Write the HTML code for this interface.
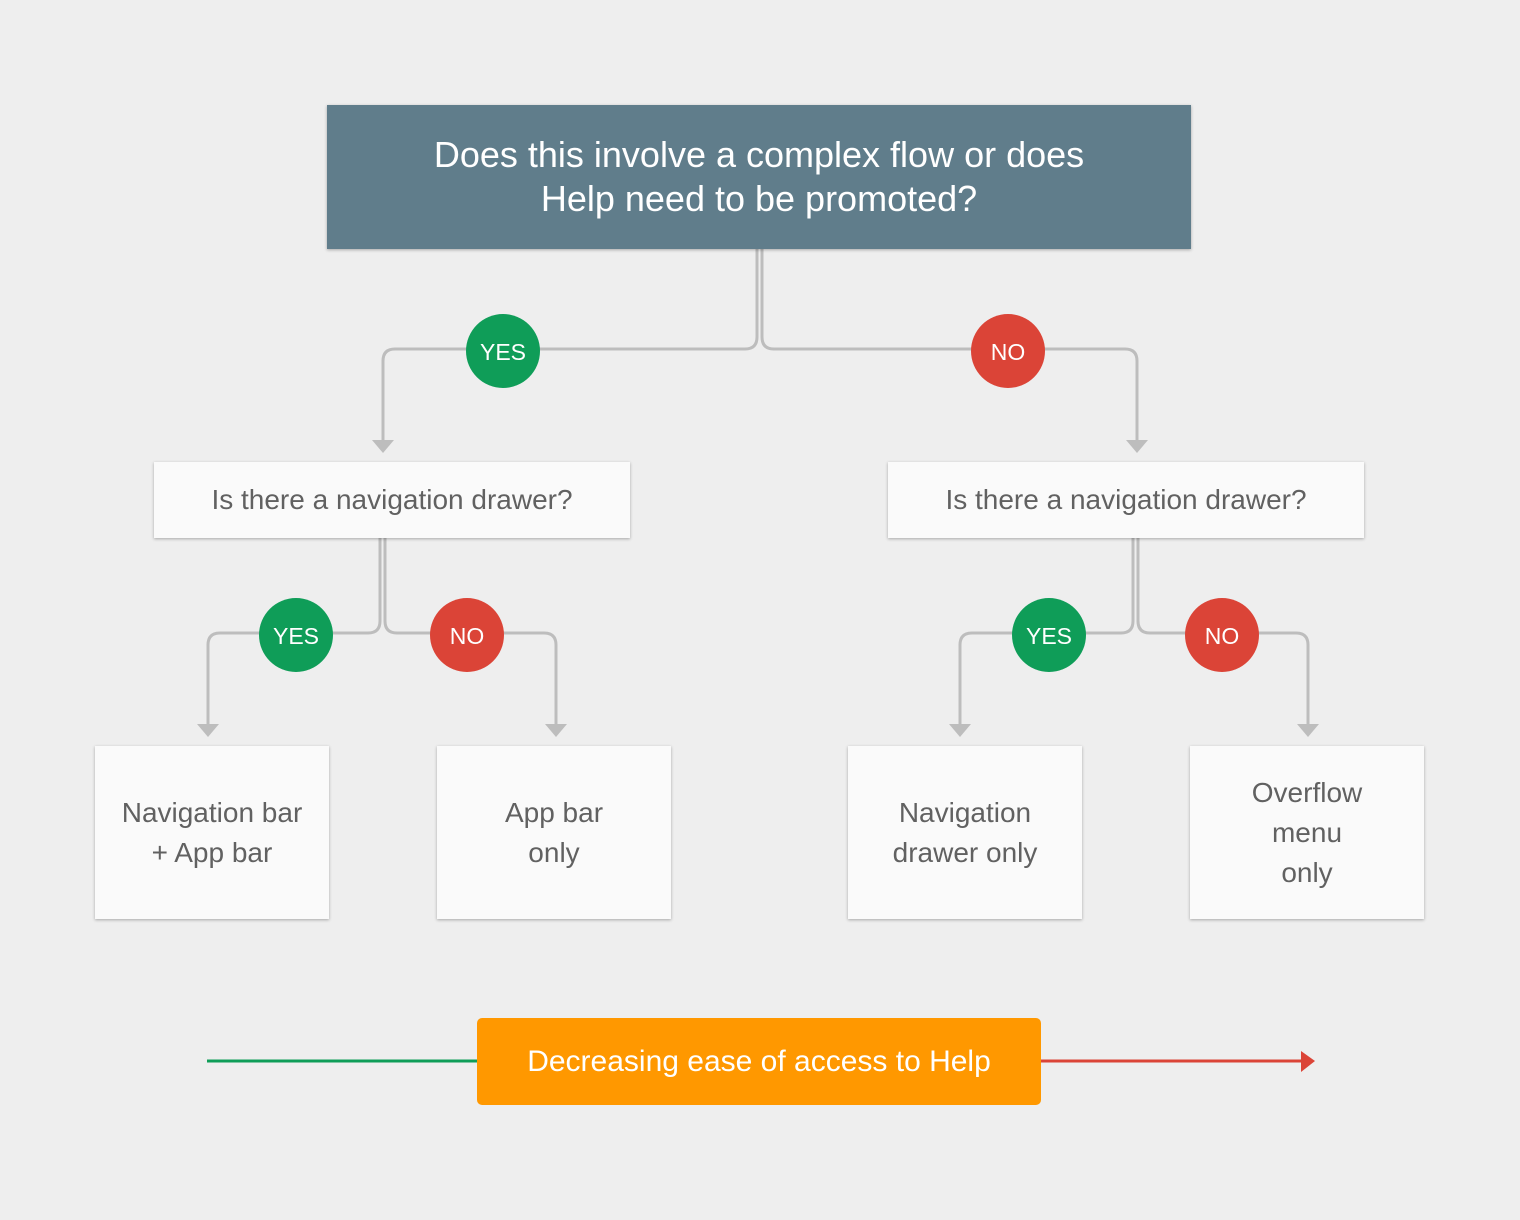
<!DOCTYPE html>
<html><head><meta charset="utf-8"><style>
html,body{margin:0;padding:0;background:#eeeeee;}
body{width:1520px;height:1220px;position:relative;overflow:hidden;font-family:"Liberation Sans",Roboto,sans-serif;}
.box{position:absolute;background:#fafafa;box-shadow:0 1px 3px rgba(0,0,0,.3);display:flex;align-items:center;justify-content:center;text-align:center;color:#616161;}
svg{position:absolute;left:0;top:0;}
</style></head><body>
<svg width="1520" height="1220">
<g fill="none" stroke="#bdbdbd" stroke-width="3">
<path d="M757 249 V337 Q757 349 745 349 H395 Q383 349 383 361 V442"/>
<path d="M762 249 V337 Q762 349 774 349 H1125 Q1137 349 1137 361 V442"/>
<path d="M380 538 V621 Q380 633 368 633 H220 Q208 633 208 645 V726"/>
<path d="M385 538 V621 Q385 633 397 633 H544 Q556 633 556 645 V726"/>
<path d="M1133 538 V621 Q1133 633 1121 633 H972 Q960 633 960 645 V726"/>
<path d="M1138 538 V621 Q1138 633 1150 633 H1296 Q1308 633 1308 645 V726"/>
</g>
<g fill="#bdbdbd">
<polygon points="372,440 394,440 383,453"/>
<polygon points="1126,440 1148,440 1137,453"/>
<polygon points="197,724 219,724 208,737"/>
<polygon points="545,724 567,724 556,737"/>
<polygon points="949,724 971,724 960,737"/>
<polygon points="1297,724 1319,724 1308,737"/>
</g>
<line x1="207" y1="1061" x2="480" y2="1061" stroke="#0f9d58" stroke-width="3"/>
<line x1="1040" y1="1061" x2="1303" y2="1061" stroke="#db4437" stroke-width="3"/>
<polygon points="1301,1051 1315,1061 1301,1072" fill="#db4437"/>
<g font-family="Liberation Sans, sans-serif" font-size="23" fill="#fff" text-anchor="middle">
<circle cx="503" cy="351" r="37" fill="#0f9d58"/><text x="503" y="360">YES</text>
<circle cx="1008" cy="351" r="37" fill="#db4437"/><text x="1008" y="360">NO</text>
<circle cx="296" cy="635" r="37" fill="#0f9d58"/><text x="296" y="644">YES</text>
<circle cx="467" cy="635" r="37" fill="#db4437"/><text x="467" y="644">NO</text>
<circle cx="1049" cy="635" r="37" fill="#0f9d58"/><text x="1049" y="644">YES</text>
<circle cx="1222" cy="635" r="37" fill="#db4437"/><text x="1222" y="644">NO</text>
</g>
</svg>
<div class="box" style="left:327px;top:105px;width:864px;height:144px;background:#607d8b;color:#fff;font-size:36px;line-height:44px;">Does this involve a complex flow or does<br>Help need to be promoted?</div>
<div class="box" style="left:154px;top:462px;width:476px;height:76px;font-size:28px;">Is there a navigation drawer?</div>
<div class="box" style="left:888px;top:462px;width:476px;height:76px;font-size:28px;">Is there a navigation drawer?</div>
<div class="box" style="left:95px;top:746px;width:234px;height:173px;font-size:28px;line-height:40px;">Navigation bar<br>+ App bar</div>
<div class="box" style="left:437px;top:746px;width:234px;height:173px;font-size:28px;line-height:40px;">App bar<br>only</div>
<div class="box" style="left:848px;top:746px;width:234px;height:173px;font-size:28px;line-height:40px;">Navigation<br>drawer only</div>
<div class="box" style="left:1190px;top:746px;width:234px;height:173px;font-size:28px;line-height:40px;">Overflow<br>menu<br>only</div>
<div class="box" style="left:477px;top:1018px;width:564px;height:87px;background:#ff9800;color:#fff;font-size:30px;border-radius:5px;box-shadow:none;">Decreasing ease of access to Help</div>
</body></html>
